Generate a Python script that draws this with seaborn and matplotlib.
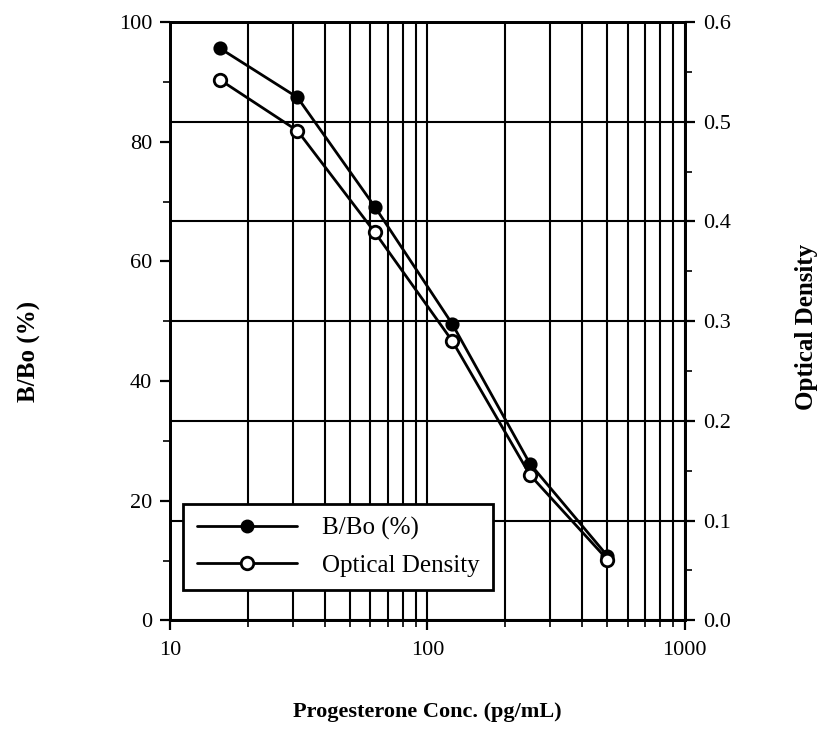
import matplotlib
matplotlib.use("Agg")
import matplotlib.pyplot as plt
import matplotlib.ticker as mticker
from matplotlib.lines import Line2D
import seaborn as sns
import pandas as pd

# ---- data ----
conc = [15.63, 31.25, 62.5, 125, 250, 500]          # pg/mL
bbo = [95.6, 87.4, 69.1, 49.5, 26.2, 10.8]           # B/Bo (%)
od = [0.542, 0.491, 0.389, 0.280, 0.146, 0.061]      # optical density

x_label = "Progesterone Conc. (pg/mL)"
left_label = "B/Bo (%)"
right_label = "Optical Density"

df = pd.DataFrame({"conc": conc, "bbo": bbo, "od": od})

sns.set_theme(style="ticks")
plt.rcParams['font.family'] = ['Liberation Serif', 'DejaVu Serif']
plt.rcParams['text.color'] = 'black'
plt.rcParams['axes.labelcolor'] = 'black'
plt.rcParams['axes.linewidth'] = 1.6

fig = plt.figure(figsize=(8.3, 7.35), dpi=100)
ax = fig.add_axes([0.205, 0.156, 0.62, 0.814])
ax2 = ax.twinx()

LW = 2.0
MS = 9

# B/Bo on left axis (filled markers)
sns.lineplot(data=df, x="conc", y="bbo", ax=ax, color="black", linewidth=LW,
             marker="o", markersize=MS, markerfacecolor="black",
             markeredgecolor="black", markeredgewidth=1.2)
# optical density on right axis (open markers)
sns.lineplot(data=df, x="conc", y="od", ax=ax2, color="black", linewidth=LW,
             marker="o", markersize=MS, markerfacecolor="white",
             markeredgecolor="black", markeredgewidth=2.0)

ax.set_xscale("log")
ax.set_xlim(10, 1000)
ax.set_ylim(0, 100)
ax2.set_ylim(0, 0.6)

ax.xaxis.set_major_locator(mticker.LogLocator(base=10))
ax.xaxis.set_minor_locator(mticker.LogLocator(base=10, subs=range(2, 10)))
ax.xaxis.set_major_formatter(mticker.FuncFormatter(lambda v, p: f"{v:g}"))
ax.xaxis.set_minor_formatter(mticker.NullFormatter())

ax.yaxis.set_major_locator(mticker.MultipleLocator(20))
ax.yaxis.set_minor_locator(mticker.MultipleLocator(10))
ax2.yaxis.set_major_locator(mticker.MultipleLocator(0.1))
ax2.yaxis.set_minor_locator(mticker.MultipleLocator(0.05))
ax2.yaxis.set_major_formatter(mticker.FormatStrFormatter("%.1f"))

# grid: vertical at every decade step, horizontal following the right axis
ax.grid(axis="x", which="both", color="black", linewidth=1.5)
ax2.grid(axis="y", which="major", color="black", linewidth=1.5)

for a in (ax, ax2):
    a.tick_params(which="major", direction="out", length=7, width=1.6,
                  labelsize=16, colors="black", pad=6)
    a.tick_params(which="minor", direction="out", length=5, width=1.4)
    for s in a.spines.values():
        s.set_color("black")
        s.set_linewidth(2.0)
ax.tick_params(axis="x", which="major", pad=8)

ax.set_xlabel(x_label, fontsize=16, fontweight="bold", labelpad=30)
ax.set_ylabel(left_label, fontsize=18, fontweight="bold")
ax2.set_ylabel(right_label, fontsize=18, fontweight="bold")
ax.yaxis.set_label_coords(-0.25, 0.45)
ax2.yaxis.set_label_coords(1.215, 0.49)

handles = [
    Line2D([], [], color="black", linewidth=LW, marker="o", markersize=MS,
           markerfacecolor="black", markeredgecolor="black"),
    Line2D([], [], color="black", linewidth=LW, marker="o", markersize=MS,
           markerfacecolor="white", markeredgecolor="black", markeredgewidth=2.0),
]
leg = ax2.legend(handles, [left_label, right_label], loc="lower left",
                 bbox_to_anchor=(0.025, 0.05), borderaxespad=0, fontsize=18,
                 handlelength=4.0, numpoints=1, fancybox=False, framealpha=1,
                 edgecolor="black", borderpad=0.55, labelspacing=0.55,
                 handletextpad=1.0)
leg.get_frame().set_linewidth(2.0)

fig.savefig("out.png", dpi=100)
